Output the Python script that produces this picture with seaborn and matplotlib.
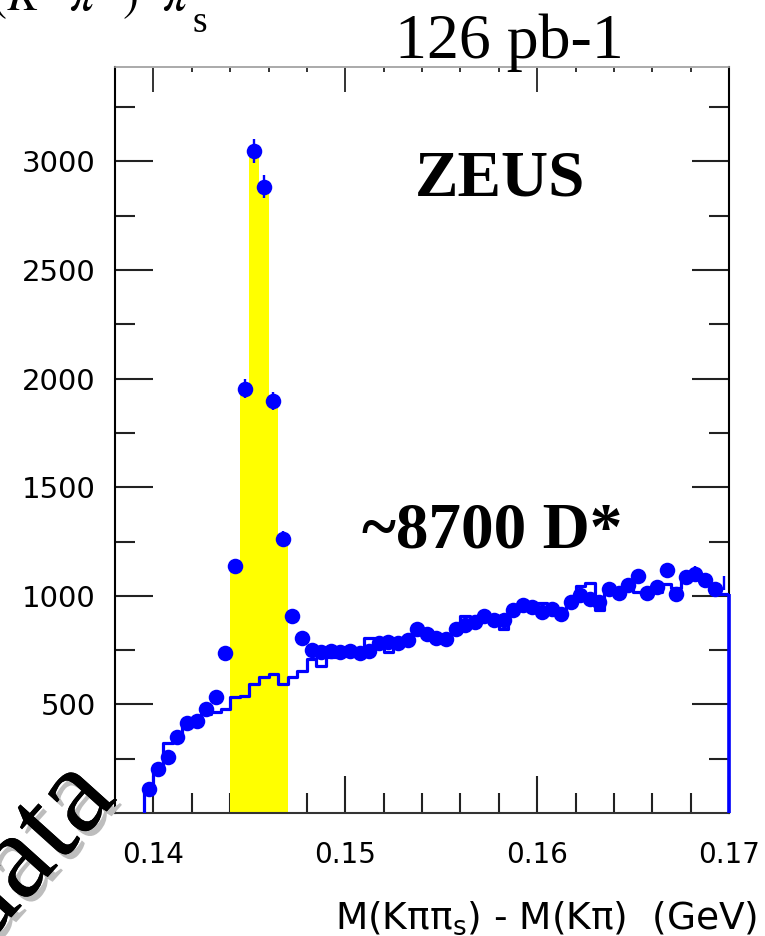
import numpy as np
import pandas as pd
import matplotlib
matplotlib.use("Agg")
import matplotlib.pyplot as plt
import matplotlib.patheffects as pe
import seaborn as sns

# Delta-M binning (GeV): 0.5 MeV bins
bin_lo = 0.1395
bin_w = 0.0005
n_bins = 61

# Right-charge D* candidates per bin
dstar_counts = [
    112, 202, 258, 350, 415, 422, 477, 534, 737, 1138,
    1953, 3048, 2884, 1897, 1262, 906, 807, 749, 740, 748,
    740, 748, 735, 745, 783, 787, 783, 798, 848, 826,
    808, 803, 848, 864, 880, 905, 887, 890, 935, 958,
    948, 925, 941, 918, 971, 1005, 987, 971, 1033, 1013,
    1048, 1090, 1013, 1040, 1117, 1010, 1087, 1102, 1071, 1033,
    1058,
]

# Wrong-charge combinations (normalised background)
wrong_charge = [
    90, 190, 322, 345, 405, 425, 458, 465, 480, 534,
    537, 595, 626, 640, 592, 625, 655, 707, 678, 718,
    722, 738, 742, 807, 778, 741, 788, 800, 842, 830,
    812, 810, 838, 908, 880, 892, 878, 845, 930, 952,
    944, 968, 935, 925, 962, 1043, 1058, 933, 1022, 1030,
    1045, 1017, 1017, 1017, 1053, 1038, 1078, 1088, 1060, 1025,
    1010,
]

# Signal window bins (first, last)
signal_bins = (9, 14)

x_major = [0.14, 0.15, 0.16, 0.17]
x_labels = ["0.14", "0.15", "0.16", "0.17"]
y_major = [500, 1000, 1500, 2000, 2500, 3000]
y_labels = ["500", "1000", "1500", "2000", "2500", "3000"]

edges = bin_lo + bin_w * np.arange(n_bins + 1)
centers = edges[:-1] + bin_w / 2
counts = np.array(dstar_counts, dtype=float)
bkg = np.array(wrong_charge, dtype=float)

df = pd.DataFrame({"dm": centers, "n": counts, "bkg": bkg,
                   "err": np.sqrt(counts)})
s0, s1 = signal_bins
sig = df.iloc[s0:s1 + 1]

sns.set_style("ticks")
plt.rcParams["font.family"] = ["DejaVu Sans"]
plt.rcParams["mathtext.fontset"] = "dejavusans"
plt.rcParams["text.color"] = "black"
plt.rcParams["xtick.color"] = "black"
plt.rcParams["ytick.color"] = "black"

W, H = 765, 936
fig = plt.figure(figsize=(W / 100, H / 100), dpi=100)
ax = fig.add_axes([115 / W, 1 - 813 / H, (729 - 115) / W, (813 - 67) / H])

BLUE = "#0000ff"
YELLOW = "#ffff00"

# filled signal window
sns.histplot(data=sig, x="dm", weights="n", bins=list(edges[s0:s1 + 2]),
             element="step", fill=True, color=YELLOW, alpha=1.0,
             linewidth=0, ax=ax, zorder=1)

# wrong-charge histogram outline
sns.histplot(data=df, x="dm", weights="bkg", bins=list(edges),
             element="step", fill=False, color=BLUE, linewidth=2.3,
             ax=ax, zorder=3)
ax.vlines([edges[0]], 0, bkg[0], color=BLUE, linewidth=2.3, zorder=3)
ax.vlines([edges[-1]], 0, bkg[-1], color=BLUE, linewidth=2.6, zorder=6,
          clip_on=False)

# data points with statistical errors
ax.errorbar(df["dm"], df["n"], yerr=df["err"], fmt="none",
            ecolor=BLUE, elinewidth=1.7, capsize=0, zorder=4)
sns.scatterplot(data=df.iloc[:-1], x="dm", y="n", s=125, color=BLUE,
                linewidth=0, ax=ax, zorder=5)

ax.set_xlim(0.138, 0.17)
ax.set_ylim(0, 3435)
ax.set_xlabel("")
ax.set_ylabel("")

minor_x = np.round(np.arange(0.140, 0.1701, 0.002), 4)
ax.set_xticks(x_major)
ax.set_xticklabels(x_labels)
ax.set_xticks(minor_x, minor=True)
ax.set_yticks(y_major)
ax.set_yticklabels(y_labels)
ax.set_yticks(np.arange(250, 3435, 250), minor=True)

ax.tick_params(axis="both", which="major", direction="in", length=27,
               width=1.5, color="#222222", labelcolor="black")
ax.tick_params(axis="both", which="minor", direction="in", length=14.4,
               width=1.5, color="#222222")
ax.tick_params(axis="x", which="major", pad=20, labelsize=20)
ax.tick_params(axis="y", which="major", pad=14, labelsize=21)
ax.tick_params(axis="y", which="both", right=True, labelright=False)
ax.tick_params(axis="x", which="both", top=False)

# shorter ticks along the top edge
sec = ax.secondary_xaxis("top")
sec.set_xticks(x_major)
sec.set_xticks(minor_x, minor=True)
sec.tick_params(axis="x", which="major", direction="in", length=18,
                width=1.4, color="#333333", labeltop=False)
sec.tick_params(axis="x", which="minor", direction="in", length=3.6,
                width=1.4, color="#333333")
sec.spines["top"].set_color("#aaaaaa")
sec.spines["top"].set_linewidth(1.2)

ax.spines["left"].set_color("black")
ax.spines["left"].set_linewidth(1.5)
ax.spines["bottom"].set_color("#333333")
ax.spines["bottom"].set_linewidth(1.5)
ax.spines["top"].set_color("#aaaaaa")
ax.spines["top"].set_linewidth(1.2)
ax.spines["right"].set_color("black")
ax.spines["right"].set_linewidth(1.5)


def fx(px):
    return px / W


def fy(py):
    return 1 - py / H


serif = "Liberation Serif"

fig.text(fx(757), fy(929), r"M(Kππ$_\mathrm{s}$) - M(Kπ)  (GeV)",
         ha="right", va="baseline", fontsize=27)

fig.text(fx(395), fy(58), "126 pb-1", family=serif, fontsize=46,
         ha="left", va="baseline")
fig.text(fx(415), fy(196), "ZEUS", family=serif, fontweight="bold",
         fontsize=47, ha="left", va="baseline")
fig.text(fx(362), fy(548), "~8700 D*", family=serif, fontweight="bold",
         fontsize=47, ha="left", va="baseline")

# decay channel, running off the top edge
plt.rcParams["mathtext.fontset"] = "stix"
fig.text(fx(138), fy(10), r"$(K^{-}\pi^{+})$",
         fontsize=35, ha="right", va="baseline")
fig.text(fx(162), fy(10), r"$\pi$",
         fontsize=35, ha="left", va="baseline")
fig.text(fx(193), fy(32), "s", family=serif, fontsize=27,
         ha="left", va="baseline")

fig.text(fx(-18), fy(950), "data", family=serif, fontsize=88,
         rotation=48, rotation_mode="anchor", ha="left", va="baseline",
         path_effects=[pe.withSimplePatchShadow(offset=(3.5, -3.5),
                                                shadow_rgbFace="#bdbdbd",
                                                alpha=1.0),
                       pe.Normal()])

fig.savefig("out.png", dpi=100)
